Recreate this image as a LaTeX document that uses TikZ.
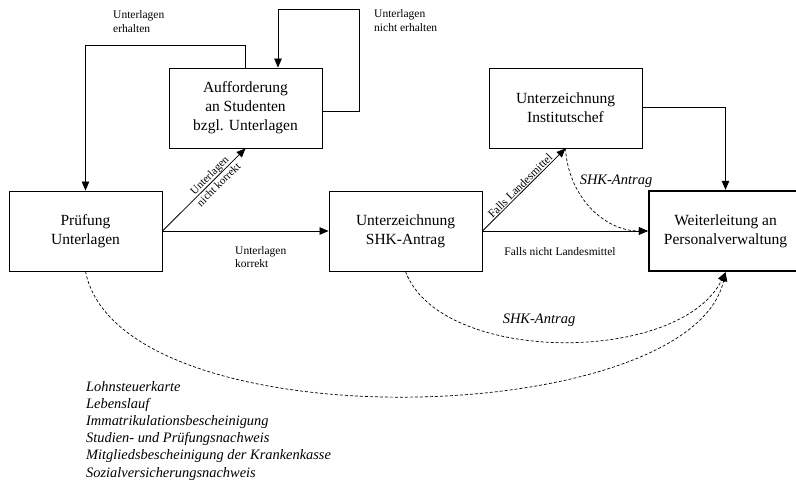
\documentclass[tikz,border=0pt]{standalone}
\usepackage{fontspec}
\setmainfont{Liberation Serif}
\usetikzlibrary{arrows.meta}
\begin{document}
\begin{tikzpicture}[x=1pt,y=1pt,
  box/.style={draw, line width=0.9pt, align=center, font=\fontsize{15.5}{19}\selectfont,
    minimum width=153pt, minimum height=80pt, inner sep=0pt},
  arr/.style={line width=0.8pt, -{Triangle[length=9pt,width=7.5pt]}},
  darr/.style={line width=0.7pt, dash pattern=on 3pt off 2pt, -{Triangle[length=9pt,width=7.5pt]}},
  lbl/.style={font=\fontsize{11.5}{14.5}\selectfont, inner sep=1pt},
  ilbl/.style={font=\fontsize{14.5}{17}\selectfont\itshape, inner sep=0pt},
  lst/.style={font=\fontsize{14.4}{17.2}\selectfont\itshape, align=left, inner sep=0pt}
]
\useasboundingbox (0,0) rectangle (796,-485);

\node[box] (pr) at (85.5,-231) {Prüfung\\Unterlagen};
\node[box] (au) at (245.5,-108) {Aufforderung\\an Studenten\\bzgl. Unterlagen};
\node[box] (shk) at (405.5,-231) {Unterzeichnung\\SHK-Antrag};
\node[box] (ic) at (565.5,-108) {Unterzeichnung\\Institutschef};
\node[box, line width=2.4pt] (wl) at (725.5,-231) {Weiterleitung an\\Personalverwaltung};

% Prüfung -> SHK
\draw[arr] (pr.east) -- (shk.west);
\node[lbl, anchor=north west, align=left, font=\fontsize{11.5}{13.5}\selectfont] (lk) at (234,-245) {Unterlagen\\korrekt};

% Prüfung -> Aufforderung
\draw[arr] (pr.east) -- node[lbl, sloped, pos=0.62, align=center, font=\fontsize{11}{13}\selectfont] {Unterlagen\\nicht korrekt} (au.south);

% Aufforderung -> Prüfung (erhalten)
\draw[arr] (au.north) -- ++(0,22) -| (pr.north);
\node[lbl, anchor=north west, align=left] (le) at (112,-9) {Unterlagen\\erhalten};

% Aufforderung loop (nicht erhalten)
\coordinate (auin) at ([xshift=32.5pt]au.north);
\draw[arr] ([yshift=-3pt]au.east) -- ++(37,0) -- ++(0,102) -| (auin);
\node[lbl, anchor=north west, align=left] (lne) at (373,-8) {Unterlagen\\nicht erhalten};

% SHK -> Institutschef
\draw[arr] (shk.east) -- node[lbl, sloped, above, pos=0.5] {Falls Landesmittel} (ic.south);

% SHK -> Weiterleitung
\draw[arr] (shk.east) -- (wl.west);
\node[lbl] (lnl) at (560,-252) {Falls nicht Landesmittel};

% Institutschef -> Weiterleitung
\draw[arr] ([yshift=1pt]ic.east) -| (wl.north);

% dashed curves
\draw[darr] (ic.south) .. controls (568,-195) and (603,-231) .. (wl.west);
\node[ilbl] (s1) at (616,-181) {SHK-Antrag};

\draw[darr] (shk.south) .. controls (440,-365) and (680,-365) .. (wl.south);
\node[ilbl] (s2) at (539,-320) {SHK-Antrag};

\draw[darr] (pr.south) .. controls (120,-445) and (690,-430) .. (wl.south);

\node[lst, anchor=north west] (list) at (86,-381) {Lohnsteuerkarte\\Lebenslauf\\Immatrikulationsbescheinigung\\Studien- und Prüfungsnachweis\\Mitgliedsbescheinigung der Krankenkasse\\Sozialversicherungsnachweis};
\end{tikzpicture}
\end{document}
